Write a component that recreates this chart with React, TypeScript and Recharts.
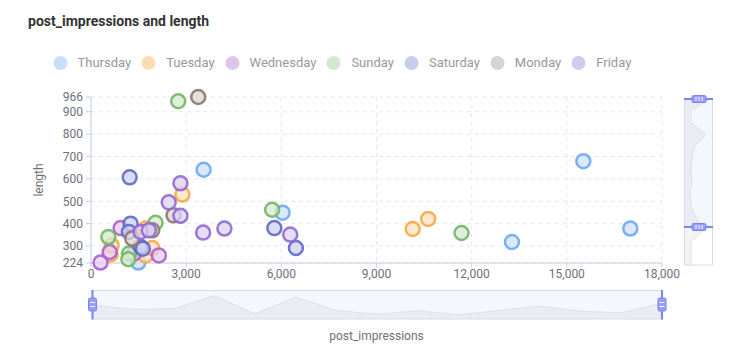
import { ScatterChart, Scatter, XAxis, YAxis, CartesianGrid, AreaChart, Area } from 'recharts';

const days = ['Thursday', 'Tuesday', 'Wednesday', 'Sunday', 'Saturday', 'Monday', 'Friday'];

// post_impressions / length per weekday
const thursdayImpressions = [1490, 3550, 6040, 13270, 15520, 17000];
const thursdayLength = [226, 641, 449, 318, 679, 378];
const tuesdayImpressions = [620, 651, 1720, 1931, 1720, 2880, 10140, 10630];
const tuesdayLength = [262, 303, 258, 291, 378, 530, 376, 421];
const wednesdayImpressions = [300, 588, 934, 1352, 2139];
const wednesdayLength = [226, 273, 380, 266, 258];
const sundayImpressions = [547, 1196, 1176, 2035, 2750, 5710, 11680];
const sundayLength = [340, 266, 241, 404, 947, 462, 358];
const saturdayImpressions = [1220, 1249, 1196, 1563, 1636, 5780, 6460];
const saturdayLength = [607, 400, 363, 296, 288, 380, 291];
const mondayImpressions = [1302, 1931, 2600, 3380];
const mondayLength = [333, 370, 437, 966];
const fridayImpressions = [1563, 1824, 2450, 2820, 2820, 3535, 4205, 6280];
const fridayLength = [363, 370, 495, 580, 435, 360, 378, 351];

const xTicks = [0, 3000, 6000, 9000, 12000, 15000, 18000];
const yTicks = [224, 300, 400, 500, 600, 700, 800, 900, 966];

// dataZoom shadows
const xShadow = [14.3, 10.3, 10.7, 23.7, 5.7, 22.3, 9, 5.3, 8.7, 4.7, 9, 13.3, 8.3, 6.7, 16.3];
const yShadow = [6, 6, 6, 19.3, 11, 6, 5, 7, 6, 7, 9.3, 21, 6, 5.7, 24.3];

const palette = [
  { fill: '#cfe2fb', stroke: '#6ea8f3', legend: '#c9defa' },
  { fill: '#fde1c0', stroke: '#f6a844', legend: '#fddcb5' },
  { fill: '#e5cdf0', stroke: '#ad5fce', legend: '#e0c5ea' },
  { fill: '#d6ead2', stroke: '#72b765', legend: '#d3e8cf' },
  { fill: '#cdd1ef', stroke: '#6068c4', legend: '#c8cdeb' },
  { fill: '#ddd5d2', stroke: '#8d756f', legend: '#d9d2cf' },
  { fill: '#dcd0f2', stroke: '#9068d3', legend: '#d6c9ee' },
];

const zip = (xs: number[], ys: number[]) => xs.map((x, i) => ({ x, y: ys[i] }));

const series = [
  zip(thursdayImpressions, thursdayLength),
  zip(tuesdayImpressions, tuesdayLength),
  zip(wednesdayImpressions, wednesdayLength),
  zip(sundayImpressions, sundayLength),
  zip(saturdayImpressions, saturdayLength),
  zip(mondayImpressions, mondayLength),
  zip(fridayImpressions, fridayLength),
];

const xShadowData = xShadow.map((v, i) => ({ i, v }));
const yShadowData = yShadow.map((v, i) => ({ i, v }));

const FONT = 'Roboto, sans-serif';
const AXIS = '#c9cfe4';
const HANDLE = '#7d84f4';

const ring = (idx: number) => (props: any) => (
  <circle
    cx={props.cx}
    cy={props.cy}
    r={7}
    fill={palette[idx].fill}
    fillOpacity={0.75}
    stroke={palette[idx].stroke}
    strokeOpacity={0.9}
    strokeWidth={2.5}
  />
);

const fmt = (v: number) => v.toLocaleString('en-US');

const App = () => {
  return (
    <div style={{ position: 'absolute', left: 0, top: 0, width: 738, height: 353, background: '#fff', fontFamily: FONT }}>
      <div style={{ position: 'absolute', left: 28, top: 13, fontSize: 14, fontWeight: 'bold', color: '#333', lineHeight: '16px' }}>
        post_impressions and length
      </div>

      <div style={{ position: 'absolute', left: 47.5, top: 56, display: 'flex', height: 14 }}>
        {days.map((d, i) => (
          <div key={d} style={{ display: 'flex', alignItems: 'center', marginRight: 5 }}>
            <svg width={25} height={14} style={{ marginRight: 5 }}>
              <circle cx={12.5} cy={7} r={7} fill={palette[i].legend} />
            </svg>
            <span style={{ fontSize: 13, color: '#999', lineHeight: '14px' }}>{d}</span>
          </div>
        ))}
      </div>

      {/* slider backgrounds */}
      <svg width={738} height={353} style={{ position: 'absolute', left: 0, top: 0 }}>
        <rect x={92} y={290.5} width={570} height={28.5} fill="#f4f7fd" />
        <rect x={684.5} y={99} width={28} height={128} fill="#f4f7fd" />
      </svg>

      <div style={{ position: 'absolute', left: 92, top: 290.5 }}>
        <AreaChart width={570} height={28.5} data={xShadowData} margin={{ top: 0, right: 0, bottom: 0, left: 0 }}>
          <XAxis type="number" dataKey="i" domain={[0, 14]} hide />
          <YAxis type="number" domain={[0, 28.5]} hide />
          <Area type="linear" dataKey="v" stroke="#dcdfe6" fill="#000" fillOpacity={0.045} strokeWidth={1} isAnimationActive={false} dot={false} activeDot={false} />
        </AreaChart>
      </div>

      <div style={{ position: 'absolute', left: 684.5, top: 99 }}>
        <AreaChart width={28} height={166} data={yShadowData} layout="vertical" margin={{ top: 0, right: 0, bottom: 0, left: 0 }}>
          <XAxis type="number" domain={[0, 28]} hide />
          <YAxis type="number" dataKey="i" domain={[0, 14]} reversed hide />
          <Area type="linear" dataKey="v" stroke="#dcdfe6" fill="#000" fillOpacity={0.045} strokeWidth={1} isAnimationActive={false} dot={false} activeDot={false} />
        </AreaChart>
      </div>

      <div style={{ position: 'absolute', left: 0, top: 0 }}>
        <ScatterChart width={738} height={353} margin={{ top: 97, right: 76, bottom: 60, left: 41 }}>
          <CartesianGrid stroke="#e3e6ee" strokeDasharray="4 4" />
          <XAxis
            type="number"
            dataKey="x"
            domain={[0, 18000]}
            ticks={xTicks}
            interval={0}
            tickFormatter={fmt}
            height={30}
            axisLine={{ stroke: AXIS }}
            tickLine={{ stroke: AXIS }}
            tickSize={4}
            tick={{ fill: '#6e7079', fontSize: 12, fontFamily: FONT }}
            label={{
              content: (p: any) => (
                <text x={p.viewBox.x + p.viewBox.width / 2} y={p.viewBox.y + 77} textAnchor="middle" fill="#6e7079" fontSize={12} fontFamily={FONT}>
                  post_impressions
                </text>
              ),
            }}
          />
          <YAxis
            type="number"
            dataKey="y"
            domain={[224, 966]}
            ticks={yTicks}
            interval={0}
            width={50}
            axisLine={{ stroke: AXIS }}
            tickLine={{ stroke: AXIS }}
            tickSize={5}
            tickMargin={3}
            tick={{ fill: '#6e7079', fontSize: 12, fontFamily: FONT }}
            label={{
              content: (p: any) => {
                const cx = p.viewBox.x + 2;
                const cy = p.viewBox.y + p.viewBox.height / 2;
                return (
                  <text x={cx} y={cy} transform={`rotate(-90, ${cx}, ${cy})`} textAnchor="middle" fill="#6e7079" fontSize={12} fontFamily={FONT}>
                    length
                  </text>
                );
              },
            }}
          />
          {series.map((data, i) => (
            <Scatter key={days[i]} name={days[i]} data={data} shape={ring(i)} isAnimationActive={false} />
          ))}
        </ScatterChart>
      </div>

      {/* slider borders and handles */}
      <svg width={738} height={353} style={{ position: 'absolute', left: 0, top: 0, pointerEvents: 'none' }}>
        <rect x={92} y={290.5} width={570} height={28.5} fill="none" stroke="#d6dbe6" />
        <line x1={92.5} x2={92.5} y1={290} y2={319.5} stroke={HANDLE} strokeWidth={2} />
        <line x1={662} x2={662} y1={290} y2={319.5} stroke={HANDLE} strokeWidth={2} />
        {[92.5, 662].map((x) => (
          <g key={x}>
            <rect x={x - 4} y={298} width={8} height={13} rx={1.5} fill="#979df7" stroke={HANDLE} />
            <line x1={x - 2.5} x2={x + 2.5} y1={302.5} y2={302.5} stroke="#fff" />
            <line x1={x - 2.5} x2={x + 2.5} y1={306.5} y2={306.5} stroke="#fff" />
          </g>
        ))}

        <rect x={684.5} y={99} width={28} height={166} fill="none" stroke="#d6dbe6" />
        {[99, 227].map((y) => (
          <g key={y}>
            <line x1={684} x2={713} y1={y} y2={y} stroke={HANDLE} strokeWidth={2} />
            <rect x={692} y={y - 3.5} width={14} height={7} rx={1.5} fill="#979df7" stroke={HANDLE} />
            <line x1={696} x2={696} y1={y - 2} y2={y + 2} stroke="#fff" />
            <line x1={699} x2={699} y1={y - 2} y2={y + 2} stroke="#fff" />
            <line x1={702} x2={702} y1={y - 2} y2={y + 2} stroke="#fff" />
          </g>
        ))}
      </svg>
    </div>
  );
};

export default App;
